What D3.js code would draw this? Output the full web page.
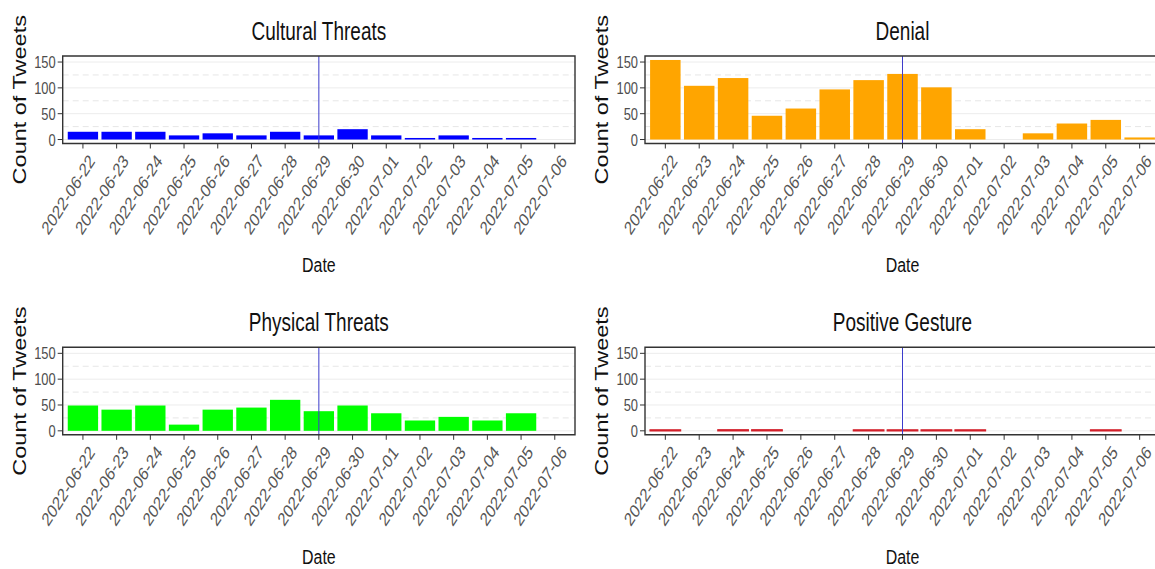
<!DOCTYPE html>
<html>
<head>
<meta charset="utf-8">
<script src="https://cdn.jsdelivr.net/npm/d3@7"></script>
<style>
  html, body { margin: 0; padding: 0; background: #fff; }
  svg { display: block; }
  text { font-family: "Liberation Sans", Arial, sans-serif; }
  .nss { vector-effect: non-scaling-stroke; }
</style>
</head>
<body>
<svg id="chart" width="1155" height="569"></svg>
<script>
// ---------- data ----------
const dates = ["2022-06-22","2022-06-23","2022-06-24","2022-06-25","2022-06-26","2022-06-27","2022-06-28",
               "2022-06-29","2022-06-30","2022-07-01","2022-07-02","2022-07-03","2022-07-04","2022-07-05","2022-07-06"];
const culturalThreats = [15, 15, 15, 8, 12, 8, 15, 8, 20, 8, 3, 8, 3, 3, 0];
const denial          = [154, 104, 119, 46, 60, 97, 115, 127, 101, 20, 0, 12, 31, 38, 4];
const physicalThreats = [49, 41, 49, 12, 41, 45, 60, 38, 49, 34, 20, 27, 20, 34, 0];
const positiveGesture = [2, 0, 2, 2, 0, 0, 2, 2, 2, 2, 0, 0, 0, 2, 0];
const panelTitles = ["Cultural Threats", "Denial", "Physical Threats", "Positive Gesture"];
const panelColors = ["#0000ff", "#ffa500", "#00ff00", "#d21f2a"];
const yTicks = [0, 50, 100, 150];
const eventDate = "2022-06-29";
const xLabel = "Date";
const yLabel = "Count of Tweets";

// ---------- layout ----------
const k = 0.76; // horizontal compression of the whole figure
const X = o => o / k;
const svg = d3.select("#chart");
const root = svg.append("g").attr("transform", `scale(${k},1)`);

const series = [culturalThreats, denial, physicalThreats, positiveGesture];
const boxes = [
  {left: 62.7, right: 575, top: 56, bottom: 143.5},
  {left: 645, right: 1160, top: 56, bottom: 143.5},
  {left: 62.7, right: 575, top: 347.3, bottom: 434.8},
  {left: 645, right: 1160, top: 347.3, bottom: 434.8}
];
const M = d3.max(series.flat());

series.forEach((vals, i) => {
  const b = boxes[i];
  const g = root.append("g");
  const x = d3.scalePoint().domain(dates).range([X(b.left), X(b.right)]).padding(0.6);
  const y = d3.scaleLinear().domain([-0.05 * M, 1.05 * M]).range([b.bottom, b.top]);
  const bw = x.step() * 0.9;

  // gridlines
  [25, 75, 125].forEach(v => {
    g.append("line").attr("class", "nss")
      .attr("x1", X(b.left)).attr("x2", X(b.right)).attr("y1", y(v)).attr("y2", y(v))
      .attr("stroke", "#e6e6e6").attr("stroke-width", 1).attr("stroke-dasharray", "6,4");
  });
  yTicks.forEach(v => {
    g.append("line").attr("class", "nss")
      .attr("x1", X(b.left)).attr("x2", X(b.right)).attr("y1", y(v)).attr("y2", y(v))
      .attr("stroke", "#ececec").attr("stroke-width", 1);
  });

  // bars
  g.selectAll("rect.bar").data(dates.map((d, j) => ({d, v: vals[j]})).filter(o => o.v > 0))
    .enter().append("rect").attr("class", "bar nss")
    .attr("x", o => x(o.d) - bw / 2)
    .attr("width", bw)
    .attr("y", o => y(o.v))
    .attr("height", o => y(0) - y(o.v))
    .attr("fill", panelColors[i])
    .attr("stroke", i === 3 ? panelColors[i] : "none")
    .attr("stroke-width", i === 3 ? 1.3 : 0);

  // event line
  g.append("line").attr("class", "nss")
    .attr("x1", x(eventDate)).attr("x2", x(eventDate))
    .attr("y1", b.top).attr("y2", b.bottom)
    .attr("stroke", "#3c3ccc").attr("stroke-width", 1);

  // box
  g.append("rect").attr("class", "nss")
    .attr("x", X(b.left)).attr("y", b.top)
    .attr("width", X(b.right) - X(b.left)).attr("height", b.bottom - b.top)
    .attr("fill", "none").attr("stroke", "#333").attr("stroke-width", 1.4);

  // y axis ticks + labels
  const yAxis = g.append("g");
  yTicks.forEach(v => {
    yAxis.append("line").attr("class", "nss")
      .attr("x1", X(b.left - 5)).attr("x2", X(b.left)).attr("y1", y(v)).attr("y2", y(v))
      .attr("stroke", "#333").attr("stroke-width", 1);
    yAxis.append("text")
      .attr("x", X(b.left - 7)).attr("y", y(v)).attr("dy", "0.36em")
      .attr("text-anchor", "end").attr("font-size", 17).attr("fill", "#4d4d4d")
      .text(v);
  });

  // x axis ticks + labels
  dates.forEach(d => {
    g.append("line").attr("class", "nss")
      .attr("x1", x(d)).attr("x2", x(d)).attr("y1", b.bottom).attr("y2", b.bottom + 5)
      .attr("stroke", "#333").attr("stroke-width", 1);
    g.append("text")
      .attr("transform", `translate(${x(d) + 6},${b.bottom + 9}) rotate(-50)`)
      .attr("dy", "0.75em")
      .attr("text-anchor", "end").attr("font-size", 19).attr("fill", "#555")
      .text(d);
  });

  // title
  g.append("text")
    .attr("x", X((b.left + Math.min(b.right, 1160)) / 2)).attr("y", b.top - 16)
    .attr("text-anchor", "middle").attr("font-size", 25).attr("fill", "#111")
    .text(panelTitles[i]);

  // x label
  g.append("text")
    .attr("x", X((b.left + b.right) / 2)).attr("y", b.bottom + 129)
    .attr("text-anchor", "middle").attr("font-size", 21).attr("fill", "#111")
    .text(xLabel);

  // y label
  g.append("text")
    .attr("transform", `translate(${X(b.left - 37)},${(b.top + b.bottom) / 2}) rotate(-90)`)
    .attr("text-anchor", "middle").attr("font-size", 23.5).attr("fill", "#111")
    .text(yLabel);
});
</script>
</body>
</html>
